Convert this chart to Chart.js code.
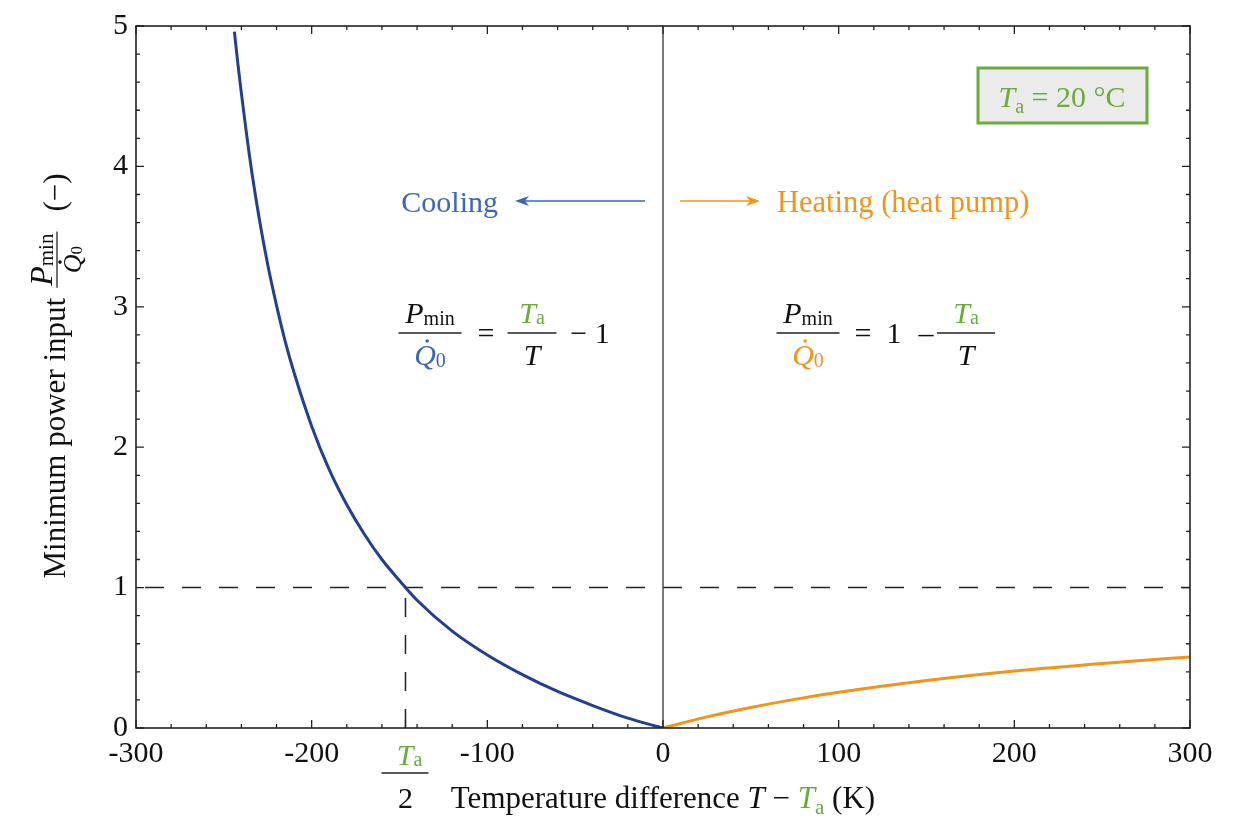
<!DOCTYPE html>
<html>
<head>
<meta charset="utf-8">
<script src="https://cdn.jsdelivr.net/npm/chart.js@4.4.1/dist/chart.umd.min.js"></script>
<style>
  html, body { margin: 0; padding: 0; background: #fff; }
  #wrap { width: 1237px; height: 822px; position: relative; }
</style>
</head>
<body>
<div id="wrap"><canvas id="grafica"></canvas></div>
<script>
// datos
const coolDT    = [-244, -242, -240, -235, -230, -225, -220, -215, -210, -200, -190, -180, -170, -160, -150, -140, -120, -100, -80, -60, -40, -20, 0];
const coolRatio = [4.96, 4.73, 4.52, 4.04, 3.64, 3.30, 3.01, 2.75, 2.53, 2.15, 1.84, 1.59, 1.38, 1.20, 1.05, 0.91, 0.69, 0.52, 0.38, 0.26, 0.16, 0.07, 0];
const heatDT    = [0, 25, 50, 75, 100, 150, 200, 250, 300];
const heatRatio = [0, 0.079, 0.146, 0.204, 0.254, 0.338, 0.406, 0.460, 0.506];
const refLineDT = [-300, 300];
const refRatio  = [1, 1];
const taHalfDT  = [-146.6, -146.6];
const taHalfY   = [0, 1];
const zeroDT    = [0, 0];
const zeroY     = [0, 5];

const SERIF = '"Liberation Serif", "Times New Roman", serif';
const AZUL = '#23408e';
const AZUL_TXT = '#3b68b4';
const NARANJA = '#f0941c';
const VERDE = '#6aab3c';

function fnt(size, italic) {
  return (italic ? 'italic ' : '') + size + 'px ' + SERIF;
}
function pts(xs, ys) {
  return xs.map((x, i) => ({ x: x, y: ys[i] }));
}

// dibuja un texto con partes de distinto estilo
function drawRun(ctx, x, y, parts, align) {
  ctx.textBaseline = 'alphabetic';
  ctx.textAlign = 'left';
  let w = 0;
  parts.forEach(p => {
    ctx.font = p.f;
    p.w = ctx.measureText(p.t).width;
    w += p.w + (p.gap || 0);
  });
  let cx = align === 'center' ? x - w / 2 : (align === 'right' ? x - w : x);
  parts.forEach(p => {
    ctx.font = p.f;
    ctx.fillStyle = p.c || '#111';
    ctx.fillText(p.t, cx, y + (p.dy || 0));
    if (p.dot) {
      ctx.beginPath();
      ctx.arc(cx + p.w * 0.6, y - p.dot, 1.8, 0, Math.PI * 2);
      ctx.fill();
    }
    cx += p.w + (p.gap || 0);
  });
  return w;
}
function runWidth(ctx, parts) {
  let w = 0;
  parts.forEach(p => { ctx.font = p.f; w += ctx.measureText(p.t).width + (p.gap || 0); });
  return w;
}
function fraccion(ctx, cx, barY, num, den, barW) {
  drawRun(ctx, cx, barY - 10, num, 'center');
  drawRun(ctx, cx, barY + 32, den, 'center');
  ctx.strokeStyle = '#222';
  ctx.lineWidth = 1.4;
  ctx.beginPath();
  ctx.moveTo(cx - barW / 2, barY);
  ctx.lineTo(cx + barW / 2, barY);
  ctx.stroke();
}
function flecha(ctx, x1, x2, y, color) {
  const dir = Math.sign(x2 - x1);
  ctx.strokeStyle = color;
  ctx.fillStyle = color;
  ctx.lineWidth = 1.6;
  ctx.beginPath();
  ctx.moveTo(x1, y);
  ctx.lineTo(x2 - dir * 8, y);
  ctx.stroke();
  ctx.beginPath();
  ctx.moveTo(x2, y);
  ctx.lineTo(x2 - dir * 14, y - 5);
  ctx.lineTo(x2 - dir * 10, y);
  ctx.lineTo(x2 - dir * 14, y + 5);
  ctx.closePath();
  ctx.fill();
}

const pMin = () => [{ t: 'P', f: fnt(30, true) }, { t: 'min', f: fnt(20), dy: 2 }];
const qDot = (c) => [{ t: 'Q', f: fnt(30, true), c: c, dot: 24 }, { t: '0', f: fnt(20), c: c, dy: 2 }];
const ta = () => [{ t: 'T', f: fnt(30, true), c: VERDE }, { t: 'a', f: fnt(20), c: VERDE, dy: 1 }];
const tSola = () => [{ t: 'T', f: fnt(30, true) }];

const marcoPlugin = {
  id: 'marco',
  afterDraw(chart) {
    const ctx = chart.ctx;
    const a = chart.chartArea;
    const xs = chart.scales.x, ys = chart.scales.y;
    ctx.save();
    ctx.strokeStyle = '#222';
    ctx.lineWidth = 1.3;

    // ticks hacia adentro en los cuatro lados
    ctx.beginPath();
    for (let i = 0; i <= 30; i++) {
      const v = -300 + i * 20;
      const len = v % 100 === 0 ? 8 : 4;
      const px = xs.getPixelForValue(v);
      ctx.moveTo(px, a.bottom); ctx.lineTo(px, a.bottom - len);
      ctx.moveTo(px, a.top); ctx.lineTo(px, a.top + len);
    }
    for (let i = 0; i <= 25; i++) {
      const v = i * 0.2;
      const len = i % 5 === 0 ? 8 : 4;
      const py = ys.getPixelForValue(v);
      ctx.moveTo(a.left, py); ctx.lineTo(a.left + len, py);
      ctx.moveTo(a.right, py); ctx.lineTo(a.right - len, py);
    }
    const pxTa = xs.getPixelForValue(taHalfDT[0]);
    ctx.moveTo(pxTa, a.bottom); ctx.lineTo(pxTa, a.bottom - 8);
    ctx.stroke();

    ctx.lineWidth = 1.6;
    ctx.strokeRect(a.left, a.top, a.right - a.left, a.bottom - a.top);

    // etiqueta Ta/2 en el eje x
    drawRun(ctx, pxTa + 4, 765, ta(), 'center');
    ctx.lineWidth = 1.4;
    ctx.beginPath();
    ctx.moveTo(pxTa - 24, 773); ctx.lineTo(pxTa + 23, 773);
    ctx.stroke();
    drawRun(ctx, pxTa, 808, [{ t: '2', f: fnt(30) }], 'center');

    // titulo eje x
    drawRun(ctx, (a.left + a.right) / 2, 808, [
      { t: 'Temperature difference ', f: fnt(31) },
      { t: 'T', f: fnt(31, true) },
      { t: ' \u2212 ', f: fnt(31) },
      { t: 'T', f: fnt(31, true), c: VERDE },
      { t: 'a', f: fnt(21), c: VERDE, dy: 6 },
      { t: ' (K)', f: fnt(31) }
    ], 'center');

    // titulo eje y (rotado)
    ctx.save();
    ctx.translate(65, 376);
    ctx.rotate(-Math.PI / 2);
    const t1 = [{ t: 'Minimum power input', f: fnt(31) }];
    const num = [{ t: 'P', f: fnt(32, true) }, { t: 'min', f: fnt(21), dy: 1 }];
    const den = [{ t: 'Q', f: fnt(26, true), dot: 21 }, { t: '0', f: fnt(17), dy: 1 }];
    const t3 = [{ t: '(\u2212)', f: fnt(31) }];
    const w1 = runWidth(ctx, t1), wn = runWidth(ctx, num), w3 = runWidth(ctx, t3);
    const total = w1 + 10 + wn + 4 + 20 + w3;
    let x0 = -total / 2;
    drawRun(ctx, x0, 0, t1, 'left');
    x0 += w1 + 10;
    drawRun(ctx, x0 + (wn + 4) / 2, -13, num, 'center');
    drawRun(ctx, x0 + (wn + 4) / 2, 16, den, 'center');
    ctx.strokeStyle = '#222';
    ctx.lineWidth = 1.3;
    ctx.beginPath();
    ctx.moveTo(x0, -8); ctx.lineTo(x0 + wn + 4, -8);
    ctx.stroke();
    x0 += wn + 4 + 20;
    drawRun(ctx, x0, 0, t3, 'left');
    ctx.restore();

    // textos de enfriamiento / calefaccion
    drawRun(ctx, 498, 212, [{ t: 'Cooling', f: fnt(30), c: AZUL_TXT }], 'right');
    flecha(ctx, 645, 515, 201, AZUL_TXT);
    flecha(ctx, 680, 760, 201, NARANJA);
    drawRun(ctx, 777, 212, [{ t: 'Heating (heat pump)', f: fnt(30.5), c: NARANJA }], 'left');

    // ecuacion izquierda
    fraccion(ctx, 430, 333, pMin(), qDot(AZUL_TXT), 63);
    drawRun(ctx, 486, 343, [{ t: '=', f: fnt(30) }], 'center');
    fraccion(ctx, 532, 333, ta(), tSola(), 49);
    drawRun(ctx, 590, 343, [{ t: '\u2212', f: fnt(30) }, { t: ' 1', f: fnt(30) }], 'center');

    // ecuacion derecha
    fraccion(ctx, 808, 333, pMin(), qDot(NARANJA), 63);
    drawRun(ctx, 863, 343, [{ t: '=', f: fnt(30) }], 'center');
    drawRun(ctx, 894, 343, [{ t: '1', f: fnt(30) }], 'center');
    drawRun(ctx, 926, 343, [{ t: '\u2013', f: fnt(30) }], 'center');
    fraccion(ctx, 966, 333, ta(), tSola(), 58);

    // recuadro Ta = 20 °C
    ctx.fillStyle = '#ebebeb';
    ctx.fillRect(978, 68, 169, 55);
    ctx.strokeStyle = VERDE;
    ctx.lineWidth = 3;
    ctx.strokeRect(978, 68, 169, 55);
    drawRun(ctx, 1062, 107, [
      { t: 'T', f: fnt(30, true), c: VERDE },
      { t: 'a', f: fnt(20), c: VERDE, dy: 6 },
      { t: ' = 20 \u00b0C', f: fnt(30), c: VERDE }
    ], 'center');
    ctx.restore();
  }
};

const ctx = document.getElementById('grafica').getContext('2d');
const chartPotencia = new Chart(ctx, {
  type: 'scatter',
  data: {
    datasets: [
      {
        label: 'Cero',
        data: pts(zeroDT, zeroY),
        showLine: true, borderColor: '#333', borderWidth: 1.3, pointRadius: 0
      },
      {
        label: 'Ta/2',
        data: pts(taHalfDT, taHalfY),
        showLine: true, borderColor: '#222', borderWidth: 1.5, borderDash: [19, 18], pointRadius: 0
      },
      {
        label: 'Cooling',
        data: pts(coolDT, coolRatio),
        showLine: true, borderColor: AZUL, borderWidth: 3, pointRadius: 0,
        cubicInterpolationMode: 'monotone'
      },
      {
        label: 'Heating',
        data: pts(heatDT, heatRatio),
        showLine: true, borderColor: NARANJA, borderWidth: 3, pointRadius: 0,
        cubicInterpolationMode: 'monotone'
      },
      {
        label: 'Referencia',
        data: pts(refLineDT, refRatio),
        showLine: true, borderColor: '#222', borderWidth: 1.5, borderDash: [19, 18], borderDashOffset: 28, pointRadius: 0
      }
    ]
  },
  options: {
    responsive: true,
    maintainAspectRatio: false,
    animation: false,
    layout: { padding: { left: 0, top: 25, right: 47, bottom: 0 } },
    plugins: {
      legend: { display: false },
      tooltip: { enabled: false }
    },
    scales: {
      x: {
        type: 'linear', min: -300, max: 300,
        grid: { display: false, drawTicks: false },
        border: { display: false },
        ticks: {
          stepSize: 100, padding: 8, color: '#111',
          font: { family: SERIF, size: 30 },
          callback: (v) => String(v)
        },
        afterFit: (s) => { s.height = 94; }
      },
      y: {
        type: 'linear', min: 0, max: 5,
        grid: { display: false, drawTicks: false },
        border: { display: false },
        ticks: {
          stepSize: 1, padding: 8, color: '#111',
          font: { family: SERIF, size: 30 },
          callback: (v) => String(v)
        },
        afterFit: (s) => { s.width = 136; }
      }
    }
  },
  plugins: [marcoPlugin]
});
</script>
</body>
</html>
